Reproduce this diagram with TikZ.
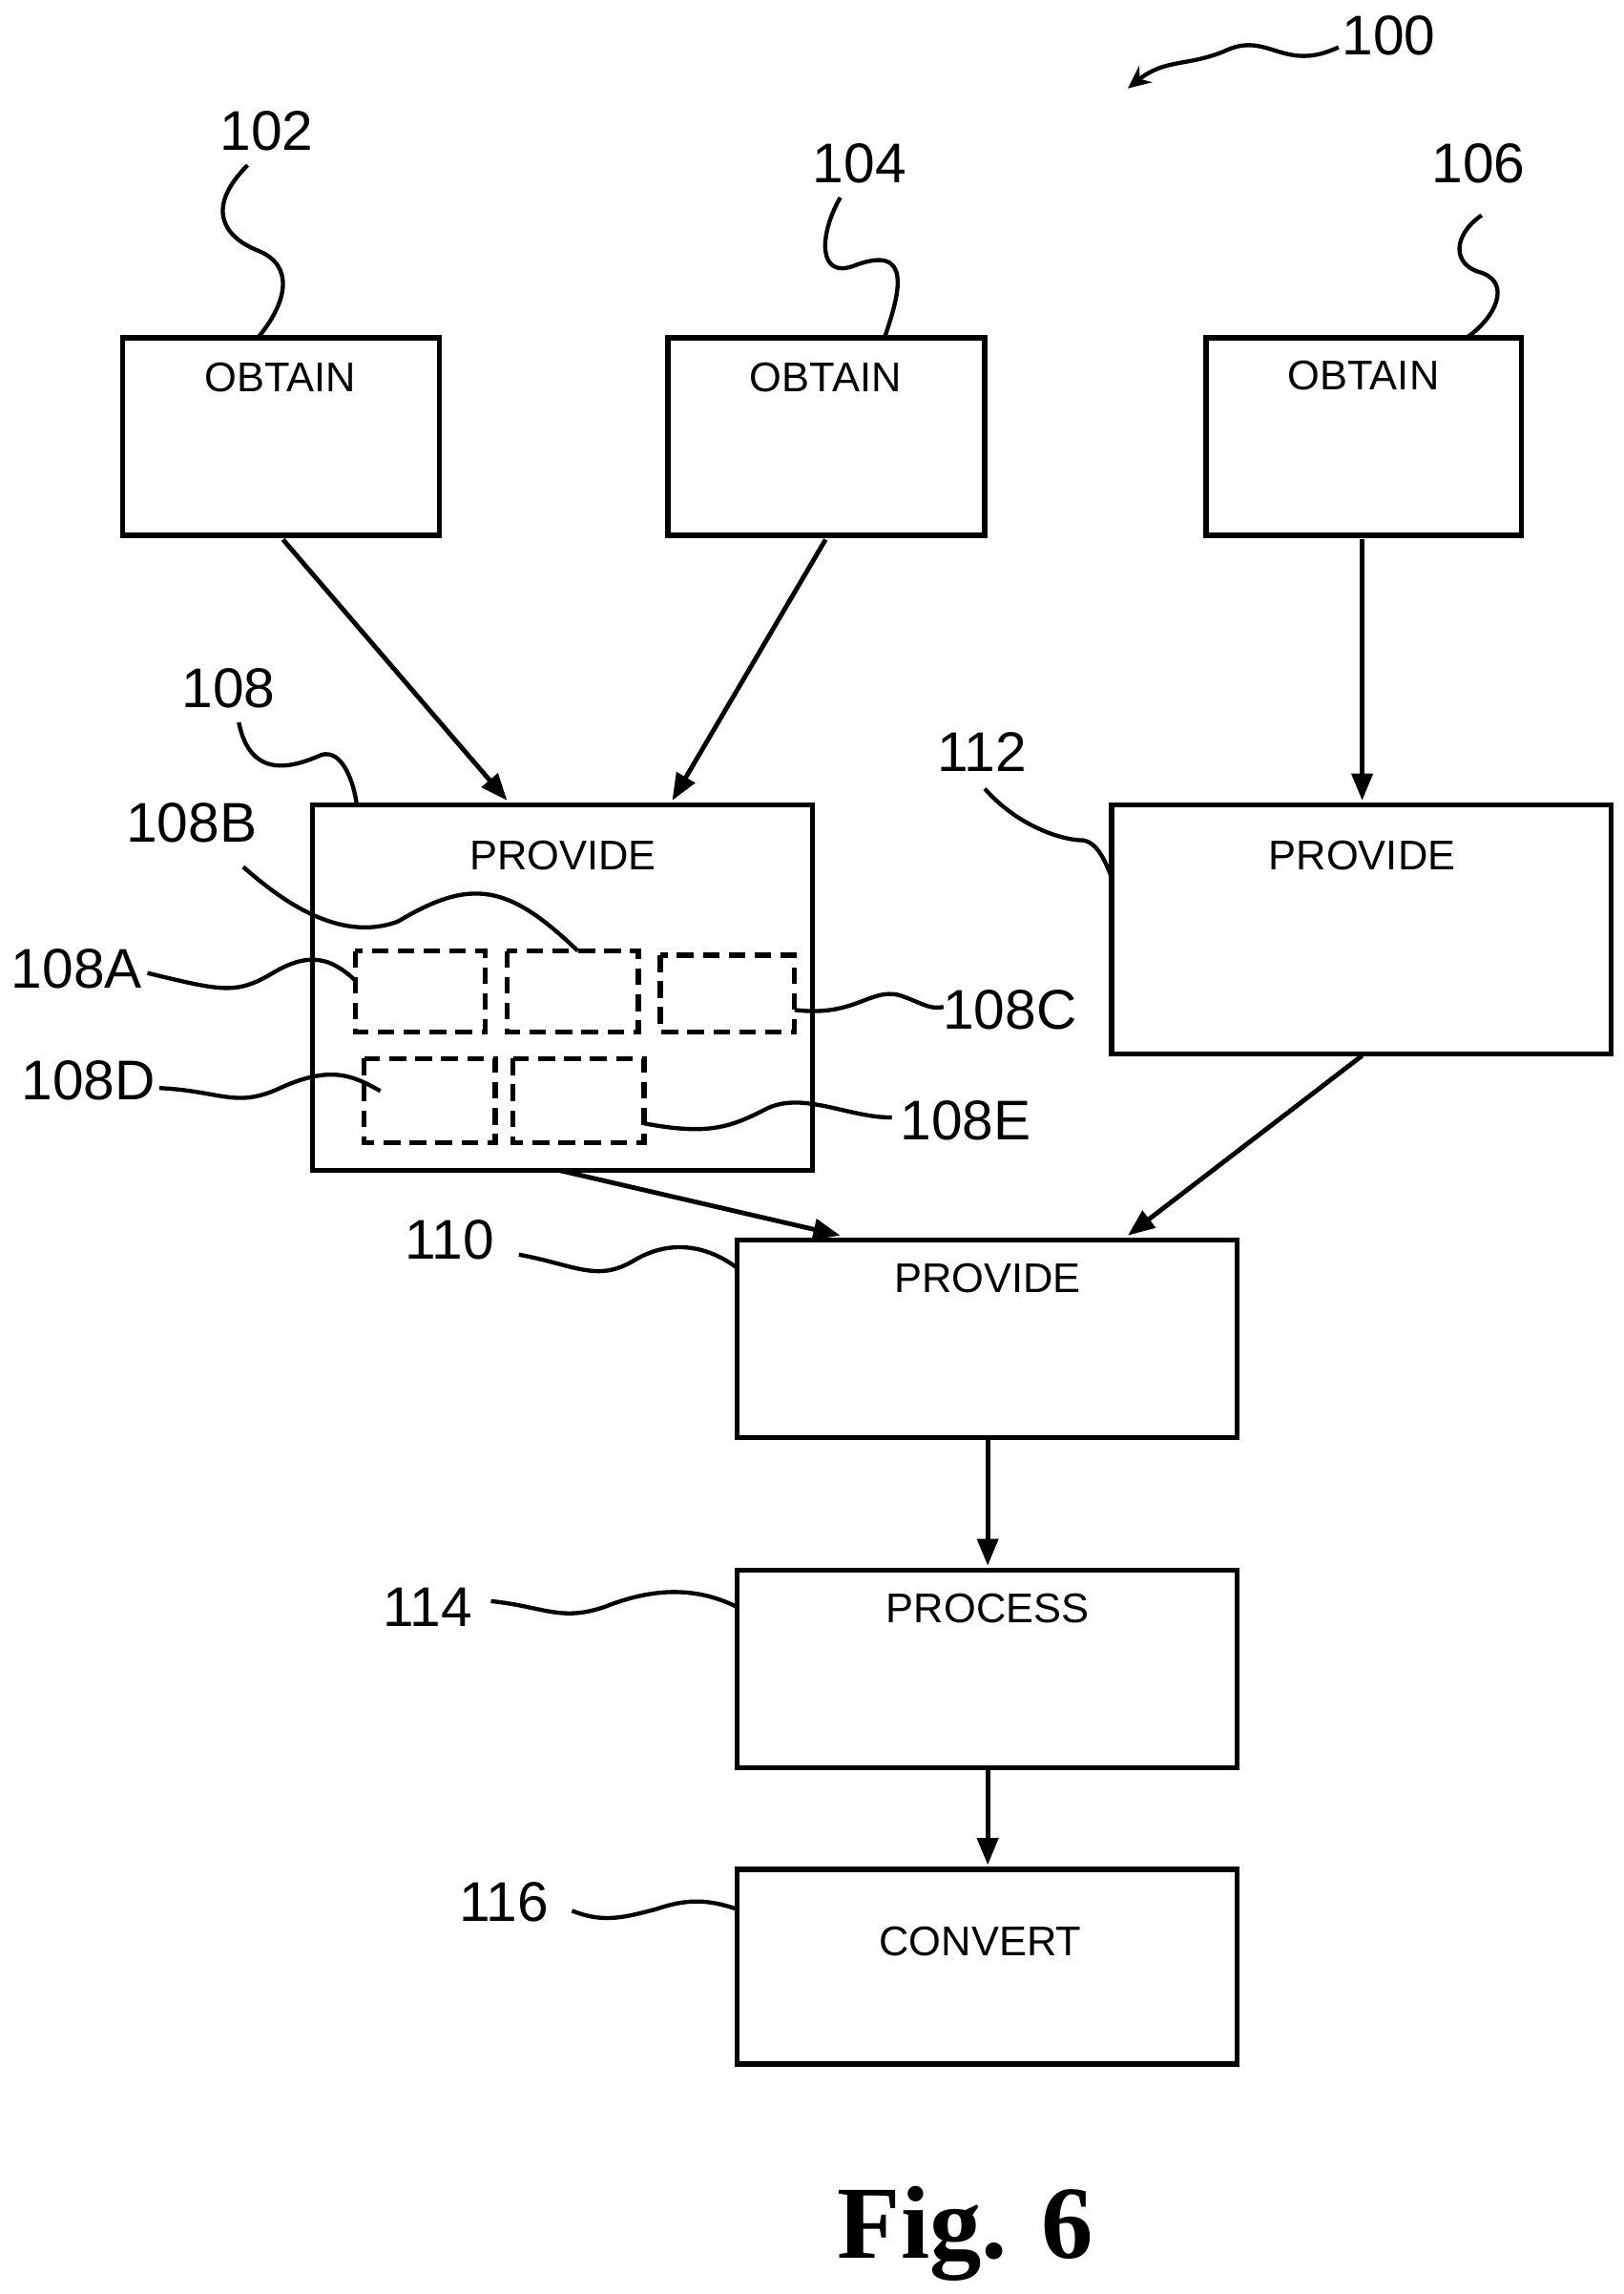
\documentclass[tikz,border=0pt]{standalone}
\usepackage{fontspec}
\setmainfont{Liberation Sans}
\newfontfamily\figfont{Liberation Serif}
\usetikzlibrary{arrows.meta}
\begin{document}
\begin{tikzpicture}[x=0.05cm,y=-0.05cm,line width=4.5pt,
 box/.style={draw,line width=5pt},
 dbox/.style={draw,line width=5pt,dash pattern=on 16pt off 9pt},
 btxt/.style={font=\fontsize{40}{44}\selectfont,anchor=center},
 lbl/.style={font=\fontsize{54}{58}\selectfont,anchor=center},
 arr/.style={-{Triangle[length=26pt,width=20pt]}},
 lead/.style={line width=4pt}]
\useasboundingbox (0,0) rectangle (1101,1556);
% boxes
\draw[box] (83,229) rectangle (298,363); \node[btxt] (t102) at (190,256) {OBTAIN};
\draw[box] (453,229) rectangle (668,363); \node[btxt] (t104) at (560,256) {OBTAIN};
\draw[box] (818,229) rectangle (1032,363); \node[btxt] (t106) at (925,255) {OBTAIN};
\draw[box] (212,546) rectangle (551,794); \node[btxt] (t108) at (382,580) {PROVIDE};
\draw[box] (754,546) rectangle (1093,715); \node[btxt] (t112) at (924,580) {PROVIDE};
\draw[box] (500,841) rectangle (839,975); \node[btxt] (t110) at (670,867) {PROVIDE};
\draw[box] (500,1065) rectangle (839,1199); \node[btxt] (t114) at (670,1091) {PROCESS};
\draw[box] (500,1268) rectangle (839,1400); \node[btxt] (t116) at (665,1317) {CONVERT};
% dashed
\draw[dbox] (241,645) rectangle (329,700);
\draw[dbox] (344,645) rectangle (433,700);
\draw[dbox] (448,648) rectangle (539,700);
\draw[dbox] (247,718) rectangle (336,775);
\draw[dbox] (348,718) rectangle (437,775);
% arrows
\draw[arr] (192,366) -- (344,543);
\draw[arr] (560,366) -- (456,543);
\draw[arr] (924,366) -- (924,543);
\draw[arr] (380,794) -- (570,838);
\draw[arr] (924,716) -- (765,838);
\draw[arr] (670,975) -- (670,1062);
\draw[arr] (670,1199) -- (670,1265);
% labels
\node[lbl] (l100) at (942,24) {100};
\draw[lead,-{Stealth[length=22pt,width=20pt]}] (908,32) .. controls (870,50) and (860,20) .. (830,35) .. controls (805,45) and (790,40) .. (765,60);
\node[lbl] (l102) at (181,89) {102};
\draw[lead] (168,112) .. controls (140,140) and (150,160) .. (175,170) .. controls (200,180) and (195,205) .. (175,229);
\node[lbl] (l104) at (583,111) {104};
\draw[lead] (570,134) .. controls (555,160) and (555,190) .. (580,180) .. controls (620,165) and (610,200) .. (600,229);
\node[lbl] (l106) at (1003,111) {106};
\draw[lead] (1005,146) .. controls (985,160) and (985,180) .. (1005,185) .. controls (1025,192) and (1015,215) .. (995,229);
\node[lbl] (l108) at (155,467) {108};
\draw[lead] (162,490) .. controls (170,530) and (200,520) .. (218,512) .. controls (232,508) and (240,530) .. (242,546);
\node[lbl] (l108B) at (130,558) {108B};
\draw[lead] (165,588) .. controls (190,610) and (230,640) .. (270,625) .. controls (320,595) and (345,600) .. (392,645);
\node[lbl] (l108A) at (52,657) {108A};
\draw[lead] (100,660) .. controls (150,672) and (160,675) .. (185,660) .. controls (210,645) and (225,650) .. (241,665);
\node[lbl] (l108C) at (685,685) {108C};
\draw[lead] (539,685) .. controls (580,690) and (590,670) .. (610,675) .. controls (625,680) and (630,685) .. (640,683);
\node[lbl] (l108D) at (60,733) {108D};
\draw[lead] (108,738) .. controls (150,740) and (160,752) .. (190,738) .. controls (225,722) and (240,730) .. (258,740);
\node[lbl] (l108E) at (655,760) {108E};
\draw[lead] (437,762) .. controls (480,770) and (495,765) .. (520,752) .. controls (545,740) and (575,758) .. (605,758);
\node[lbl] (l112) at (666,510) {112};
\draw[lead] (668,535) .. controls (690,560) and (720,570) .. (735,570) .. controls (745,572) and (750,585) .. (754,595);
\node[lbl] (l110) at (305,841) {110};
\draw[lead] (352,851) .. controls (390,858) and (405,870) .. (430,855) .. controls (455,840) and (480,845) .. (500,860);
\node[lbl] (l114) at (290,1090) {114};
\draw[lead] (333,1086) .. controls (370,1090) and (380,1100) .. (410,1090) .. controls (440,1078) and (470,1075) .. (500,1090);
\node[lbl] (l116) at (342,1290) {116};
\draw[lead] (388,1296) .. controls (410,1305) and (425,1300) .. (445,1295) .. controls (465,1288) and (480,1288) .. (500,1295);
\node[font=\figfont\bfseries\fontsize{100}{104}\selectfont] (fig) at (655,1515) {Fig. 6};
\end{tikzpicture}
\end{document}
